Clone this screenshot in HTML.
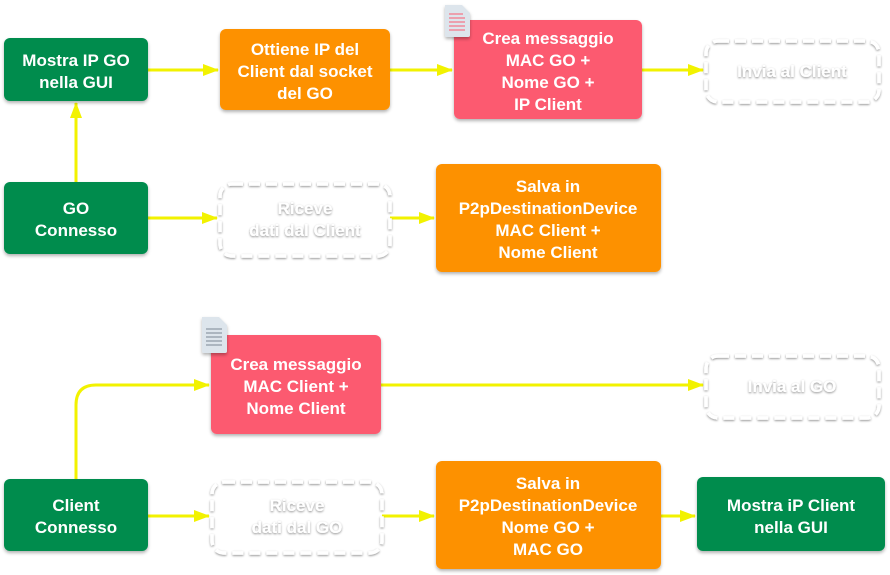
<!DOCTYPE html>
<html><head><meta charset="utf-8"><style>
html,body{margin:0;padding:0;background:#fff;}
svg{display:block;}
text{font-family:"Liberation Sans",sans-serif;font-weight:bold;font-size:17px;fill:#fff;text-anchor:middle;}
</style></head><body>
<svg width="890" height="575" viewBox="0 0 890 575" xmlns="http://www.w3.org/2000/svg">
<defs>
<filter id="sh" x="-10%" y="-10%" width="130%" height="140%"><feDropShadow dx="0" dy="2" stdDeviation="1.5" flood-color="#000" flood-opacity="0.3"/></filter>
<filter id="ts" x="-10%" y="-30%" width="120%" height="160%"><feDropShadow dx="0" dy="1" stdDeviation="1" flood-color="#000" flood-opacity="0.45"/></filter>
<marker id="a" markerWidth="16" markerHeight="12" refX="15" refY="6" orient="auto" markerUnits="userSpaceOnUse"><path d="M0,0 L16,6 L0,12z" fill="#f2f200"/></marker>
</defs>
<g stroke="#f2f200" stroke-width="3" fill="none" marker-end="url(#a)">
<line x1="148" y1="70" x2="218" y2="70"/>
<line x1="390" y1="70" x2="452" y2="70"/>
<line x1="642" y1="70" x2="703" y2="70"/>
<line x1="76" y1="182" x2="76" y2="103"/>
<line x1="148" y1="218" x2="217" y2="218"/>
<line x1="390" y1="218" x2="434" y2="218"/>
<path d="M76,479 L76,405 Q76,385 96,385 L209,385"/>
<line x1="381" y1="385" x2="703" y2="385"/>
<line x1="148" y1="516" x2="209" y2="516"/>
<line x1="382" y1="516" x2="434" y2="516"/>
<line x1="661" y1="516" x2="695" y2="516"/>
</g>
<g filter="url(#sh)">
<rect x="4" y="38" width="144" height="63" rx="6" fill="#048c4e"/>
<rect x="220" y="29" width="170" height="81" rx="6" fill="#fd9100"/>
<rect x="454" y="20" width="188" height="99" rx="6" fill="#fc5a70"/>
<rect x="4" y="182" width="144" height="72" rx="6" fill="#048c4e"/>
<rect x="436" y="164" width="225" height="108" rx="6" fill="#fd9100"/>
<rect x="211" y="335" width="170" height="99" rx="6" fill="#fc5a70"/>
<rect x="4" y="479" width="144" height="72" rx="6" fill="#048c4e"/>
<rect x="436" y="461" width="225" height="108" rx="6" fill="#fd9100"/>
<rect x="697" y="477" width="188" height="74" rx="6" fill="#048c4e"/>
</g>
<g fill="none" stroke="#fff" stroke-width="3.5" stroke-dasharray="11,6" filter="url(#ts)">
<rect x="706" y="41" width="173" height="61" rx="12"/>
<rect x="220" y="184" width="170" height="72" rx="12"/>
<rect x="706" y="356" width="173" height="62" rx="12"/>
<rect x="212" y="482" width="170" height="71" rx="12"/>
</g>
<g filter="url(#sh)">
<path d="M445,5 h17 l8,8 v22 a2,2 0 0 1 -2,2 h-21 a2,2 0 0 1 -2,-2 z" fill="#dde5ec"/>
<path d="M202,317 h17 l8,8 v26 a2,2 0 0 1 -2,2 h-21 a2,2 0 0 1 -2,-2 z" fill="#dde5ec"/>
</g>
<g stroke="#fc5a70" stroke-width="1">
<line x1="449" y1="14" x2="463" y2="14"/><line x1="449" y1="18" x2="465" y2="18"/><line x1="449" y1="22" x2="465" y2="22"/><line x1="449" y1="26" x2="465" y2="26"/><line x1="449" y1="30" x2="465" y2="30"/>
</g>
<g stroke="#7a8894" stroke-width="1">
<line x1="206" y1="329" x2="222" y2="329"/><line x1="206" y1="333" x2="222" y2="333"/><line x1="206" y1="337" x2="222" y2="337"/><line x1="206" y1="341" x2="222" y2="341"/><line x1="206" y1="345" x2="222" y2="345"/>
</g>
<text x="76" y="66">Mostra IP GO</text><text x="76" y="88">nella GUI</text>
<text x="305" y="55">Ottiene IP del</text><text x="305" y="77">Client dal socket</text><text x="305" y="99">del GO</text>
<text x="548" y="44">Crea messaggio</text><text x="548" y="66">MAC GO +</text><text x="548" y="88">Nome GO  +</text><text x="548" y="110">IP Client</text>
<text x="76" y="214">GO</text><text x="76" y="236">Connesso</text>
<text x="548" y="192">Salva in</text><text x="548" y="214">P2pDestinationDevice</text><text x="548" y="236">MAC Client +</text><text x="548" y="258">Nome Client</text>
<text x="296" y="370">Crea messaggio</text><text x="296" y="392">MAC Client +</text><text x="296" y="414">Nome Client</text>
<text x="76" y="511">Client</text><text x="76" y="533">Connesso</text>
<text x="548" y="489">Salva in</text><text x="548" y="511">P2pDestinationDevice</text><text x="548" y="533">Nome GO +</text><text x="548" y="555">MAC GO</text>
<text x="791" y="511">Mostra iP Client</text><text x="791" y="533">nella GUI</text>
<g filter="url(#ts)">
<text x="792" y="77">Invia al Client</text>
<text x="305" y="214">Riceve</text><text x="305" y="236">dati dal Client</text>
<text x="792" y="392">Invia al GO</text>
<text x="297" y="511">Riceve</text><text x="297" y="533">dati dal GO</text>
</g>
</svg>
</body></html>
